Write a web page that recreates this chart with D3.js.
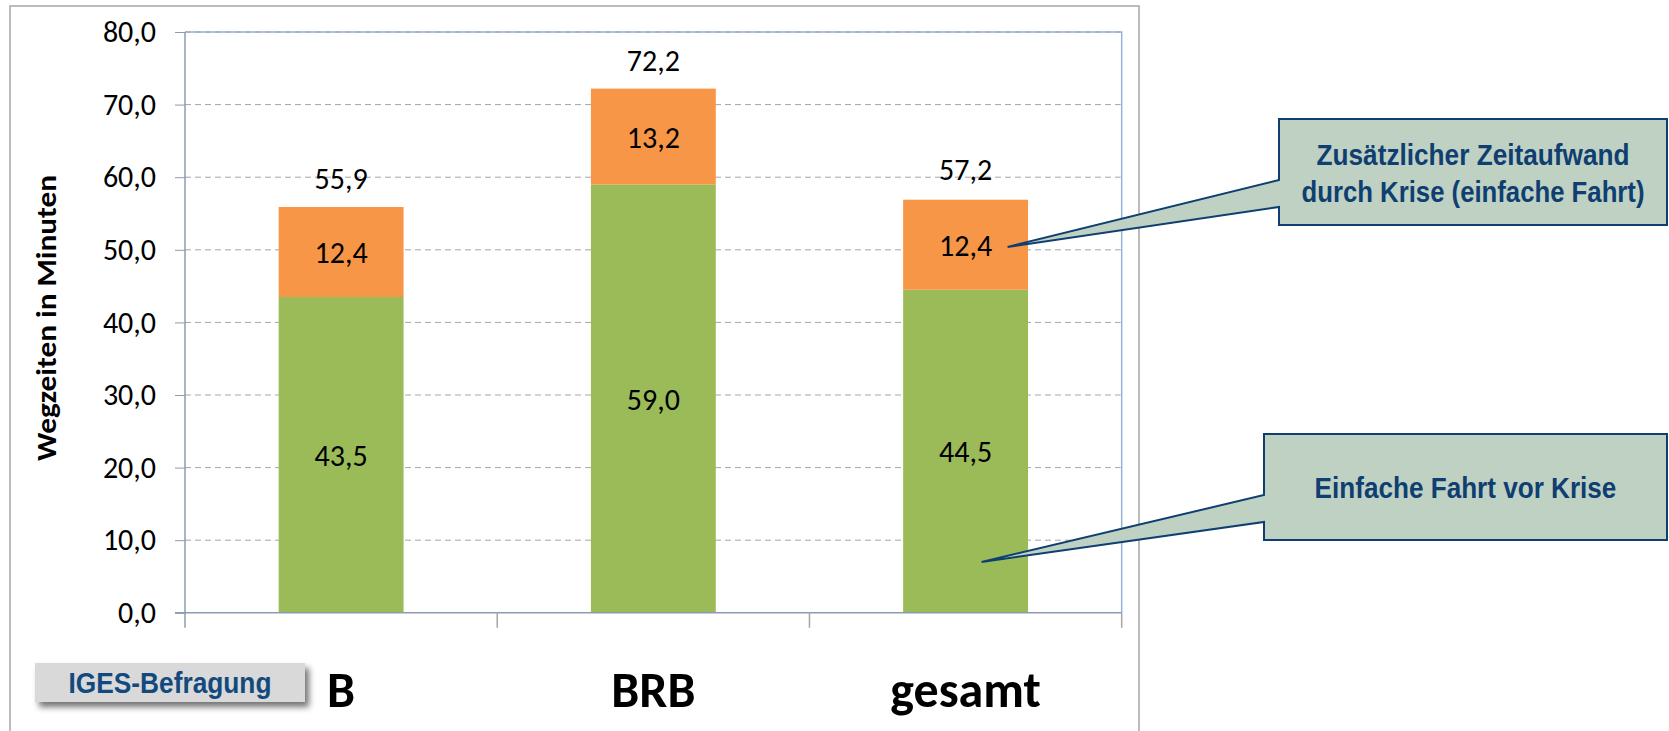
<!DOCTYPE html>
<html>
<head>
<meta charset="utf-8">
<script src="https://cdn.jsdelivr.net/npm/d3@7"></script>
<style>
  html, body { margin: 0; padding: 0; background: #fff; }
  svg { display: block; }
</style>
</head>
<body>
<script>
// Wegzeiten (Minuten) je Gebiet, gestapelt: vor der Krise + zusätzlicher Zeitaufwand
const categories = ["B", "BRB", "gesamt"];
const vorKrise = [43.5, 59.0, 44.5];
const zusaetzlich = [12.4, 13.2, 12.4];
const gesamtWerte = [55.9, 72.2, 57.2];
const yTicks = [0, 10, 20, 30, 40, 50, 60, 70, 80];
const seriesKeys = ["vorKrise", "zusaetzlich"];
const seriesColors = ["#9bbb59", "#f79646"];

const W = 1669, H = 731;
const plot = { left: 185, right: 1121.7, top: 32, bottom: 612.8 };
const calibriLike = "Carlito, Calibri, Lato, 'Open Sans', sans-serif";
const narrowBold = "'Liberation Sans Narrow', 'Arial Narrow', 'Liberation Sans', Arial, sans-serif";
const calloutBlue = "#0f3f71";
const numSize = 30;

const de = d3.formatLocale({ decimal: ",", thousands: ".", grouping: [3], currency: ["", " €"] });
const fmt = de.format(".1f");

const rows = categories.map((c, i) => ({ cat: c, vorKrise: vorKrise[i], zusaetzlich: zusaetzlich[i], gesamt: gesamtWerte[i] }));
const stacked = d3.stack().keys(seriesKeys)(rows);

const svg = d3.select("body").append("svg").attr("width", W).attr("height", H);

// Text horizontal auf eine Zielbreite skalieren (schmale Schnitte)
function fitWidth(sel, target) {
  sel.each(function () {
    const w = this.getComputedTextLength();
    const s = w > 0 ? target / w : 1;
    const base = this.parentNode.getAttribute("data-base") || "";
    this.parentNode.setAttribute("transform", `${base} scale(${s},1)`);
  });
}

const defs = svg.append("defs");
defs.append("filter").attr("id", "shadow").attr("x", "-20%").attr("y", "-40%").attr("width", "140%").attr("height", "200%")
  .append("feDropShadow").attr("dx", 4).attr("dy", 5).attr("stdDeviation", 3)
  .attr("flood-color", "#000").attr("flood-opacity", 0.55);

// Rahmen des Diagrammbereichs
svg.append("rect").attr("x", 10).attr("y", 6).attr("width", 1129).attr("height", 740)
  .attr("fill", "none").attr("stroke", "#a6a6a6").attr("stroke-width", 1.5);

const x = d3.scaleBand().domain(categories).range([plot.left, plot.right])
  .paddingInner(0.6).paddingOuter(0.3);
const y = d3.scaleLinear().domain([0, 80]).range([plot.bottom, plot.top]);

// Zeichenfläche: obere und rechte Begrenzung
svg.append("path")
  .attr("d", `M${plot.left},${plot.top}H${plot.right}V${plot.bottom}`)
  .attr("fill", "none").attr("stroke", "#95b3d7").attr("stroke-width", 1.5);

// Hilfslinien
svg.append("g").selectAll("line").data(yTicks.filter(t => t > 0)).join("line")
  .attr("x1", plot.left).attr("x2", plot.right - 1)
  .attr("y1", d => y(d)).attr("y2", d => y(d))
  .attr("stroke", "#a6a6a6").attr("stroke-width", 1).attr("stroke-dasharray", "6,4");

// Balken
svg.append("g").selectAll("g").data(stacked).join("g")
  .attr("fill", (d, i) => seriesColors[i])
  .selectAll("rect").data(d => d).join("rect")
  .attr("x", d => x(d.data.cat))
  .attr("width", x.bandwidth())
  .attr("y", d => y(d[1]))
  .attr("height", d => y(d[0]) - y(d[1]));

// Y-Achse
const yAxis = svg.append("g").attr("transform", `translate(${plot.left},0)`)
  .call(d3.axisLeft(y).tickValues(yTicks).tickFormat(fmt).tickSize(10).tickPadding(19));
yAxis.select(".domain").remove();
yAxis.selectAll(".tick line").attr("stroke", "#8c9bb0");
yAxis.selectAll(".tick text").attr("font-family", calibriLike).attr("font-size", numSize).attr("fill", "#000");
svg.append("line").attr("x1", plot.left).attr("x2", plot.left)
  .attr("y1", plot.top).attr("y2", plot.bottom + 15)
  .attr("stroke", "#8c9bb0").attr("stroke-width", 1.5);

// X-Achse
svg.append("line").attr("x1", plot.left - 10).attr("x2", plot.right)
  .attr("y1", plot.bottom).attr("y2", plot.bottom)
  .attr("stroke", "#8c9bb0").attr("stroke-width", 1.5);
const edges = categories.map(c => x(c) - x.step() * x.paddingInner() / 2).concat([plot.right]);
svg.append("g").selectAll("line").data(edges.slice(1)).join("line")
  .attr("x1", d => d).attr("x2", d => d)
  .attr("y1", plot.bottom).attr("y2", plot.bottom + 15)
  .attr("stroke", "#a6a6a6").attr("stroke-width", 1.5);
svg.append("g").selectAll("text").data(categories).join("text")
  .attr("x", d => x(d) + x.bandwidth() / 2).attr("y", 707)
  .attr("text-anchor", "middle")
  .attr("font-family", calibriLike).attr("font-weight", "bold").attr("font-size", 50)
  .attr("fill", "#000").text(d => d);

// Achsentitel
const titleG = svg.append("g").attr("data-base", "translate(56,318) rotate(-90)");
titleG.append("text")
  .attr("text-anchor", "middle")
  .attr("font-family", calibriLike).attr("font-weight", "bold").attr("font-size", 28)
  .attr("fill", "#000").text("Wegzeiten in Minuten")
  .call(fitWidth, 286);

// Segmentwerte
svg.append("g").selectAll("g").data(stacked).join("g")
  .selectAll("text").data(d => d).join("text")
  .attr("x", d => x(d.data.cat) + x.bandwidth() / 2)
  .attr("y", d => (y(d[0]) + y(d[1])) / 2 + 11)
  .attr("text-anchor", "middle")
  .attr("font-family", calibriLike).attr("font-size", numSize).attr("fill", "#000")
  .text(d => fmt(d[1] - d[0]));

// Summenwerte
svg.append("g").selectAll("text").data(rows).join("text")
  .attr("x", d => x(d.cat) + x.bandwidth() / 2)
  .attr("y", d => y(d.gesamt) - 18)
  .attr("text-anchor", "middle")
  .attr("font-family", calibriLike).attr("font-size", numSize).attr("fill", "#000")
  .text(d => fmt(d.gesamt));

// Hinweise als Sprechblasen
const gesamtX = x("gesamt") + x.bandwidth() / 2;
const callouts = [
  { box: [1279, 119, 1667, 225], wedge: [180, 207], tip: [gesamtX + 42, y(50.4)],
    lines: [{ t: "Zusätzlicher Zeitaufwand", y: 165, len: 313 }, { t: "durch Krise (einfache Fahrt)", y: 202, len: 343 }] },
  { box: [1264, 434, 1667, 540], wedge: [495, 522], tip: [gesamtX + 16, y(7)],
    lines: [{ t: "Einfache Fahrt vor Krise", y: 498, len: 302 }] }
];
const cg = svg.append("g").selectAll("g").data(callouts).join("g");
cg.append("path")
  .attr("d", d => {
    const [x0, y0, x1, y1] = d.box;
    return `M${x0},${y0}H${x1}V${y1}H${x0}V${d.wedge[1]}L${d.tip[0]},${d.tip[1]}L${x0},${d.wedge[0]}Z`;
  })
  .attr("fill", "#bfd1c3").attr("stroke", calloutBlue).attr("stroke-width", 2).attr("stroke-linejoin", "miter");
cg.each(function (d) {
  const cx = (d.box[0] + d.box[2]) / 2;
  d.lines.forEach(l => {
    const g = d3.select(this).append("g").attr("data-base", `translate(${cx},${l.y})`);
    g.append("text")
      .attr("text-anchor", "middle")
      .attr("font-family", narrowBold).attr("font-weight", "bold").attr("font-size", 30)
      .attr("fill", calloutBlue).text(l.t)
      .call(fitWidth, l.len);
  });
});

// Quellenhinweis
const src = svg.append("g");
src.append("rect").attr("x", 35).attr("y", 663).attr("width", 270).attr("height", 39)
  .attr("fill", "#d9d9d9").attr("filter", "url(#shadow)");
const srcG = src.append("g").attr("data-base", "translate(170,693)");
srcG.append("text").attr("text-anchor", "middle")
  .attr("font-family", narrowBold).attr("font-weight", "bold").attr("font-size", 30)
  .attr("fill", "#124a7e").text("IGES-Befragung")
  .call(fitWidth, 203);
</script>
</body>
</html>
